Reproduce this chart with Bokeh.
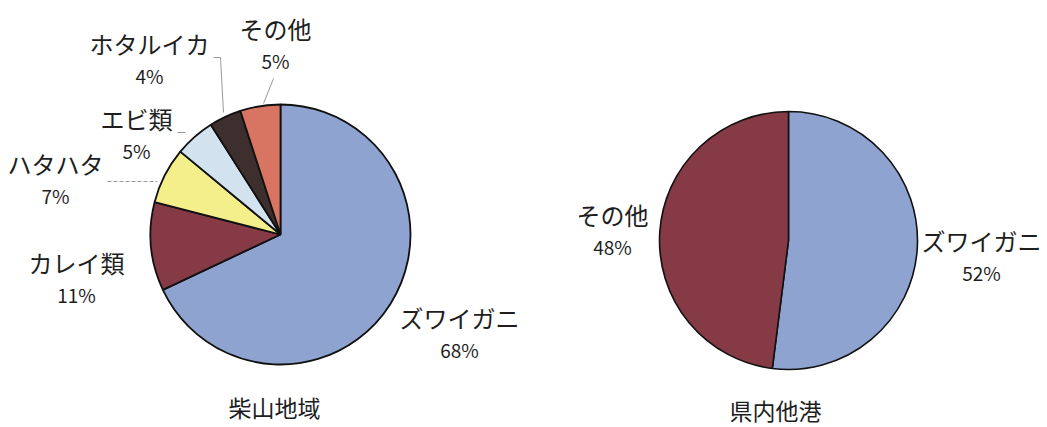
import math
from bokeh.plotting import figure
from bokeh.models import Range1d, ColumnDataSource
from bokeh.core.properties import value
from bokeh.embed import file_html
from bokeh.resources import INLINE

W, H = 1047, 427

# ---- data ----
left_title = "柴山地域"
left_cats = ["ズワイガニ", "カレイ類", "ハタハタ", "エビ類", "ホタルイカ", "その他"]
left_vals = [68, 11, 7, 5, 4, 5]
left_colors = ["#8ea3cf", "#853a45", "#f4ef8a", "#d3e2ef", "#3e2f2f", "#d77462"]

right_title = "県内他港"
right_cats = ["ズワイガニ", "その他"]
right_vals = [52, 48]
right_colors = ["#8ea3cf", "#853a45"]

# label positions (pixel coords, top-left origin)
left_label_pos = [(459, 317), (76, 262), (55, 163), (136, 118), (149, 43), (275, 28)]
right_label_pos = [(981, 240), (612, 214)]

FONT = "Noto Sans CJK JP"

p = figure(width=W, height=H, x_range=Range1d(0, W), y_range=Range1d(0, H),
           output_backend="svg", toolbar_location=None,
           x_axis_type=None, y_axis_type=None, min_border=0)
p.grid.visible = False
p.outline_line_color = None
p.background_fill_color = "white"
p.border_fill_color = "white"


def Y(y):
    return H - y


def draw_pie(cx, cy, r, vals, colors, line_width):
    tot = float(sum(vals))
    starts, ends = [], []
    cum = 0.0
    for v in vals:
        a0 = math.pi / 2 - 2 * math.pi * cum / tot
        cum += v
        a1 = math.pi / 2 - 2 * math.pi * cum / tot
        starts.append(a1)
        ends.append(a0)
    src = ColumnDataSource(dict(x=[cx] * len(vals), y=[Y(cy)] * len(vals),
                                s=starts, e=ends, c=colors))
    p.wedge(x="x", y="y", radius=r, start_angle="s", end_angle="e",
            direction="anticlock", fill_color="c", line_color="#111111",
            line_width=line_width, source=src)


def draw_labels(cats, vals, pos, size_name="24px", size_pct="19px"):
    xs = [q[0] for q in pos]
    p.text(x=xs, y=[Y(q[1]) for q in pos], text=cats,
           text_font=value(FONT), text_font_size=size_name,
           text_align="center", text_baseline="middle", text_color="#1e1e1e")
    p.text(x=xs, y=[Y(q[1] + 32) for q in pos], text=[f"{v}%" for v in vals],
           text_font=value(FONT), text_font_size=size_pct,
           text_align="center", text_baseline="middle", text_color="#1e1e1e")


draw_pie(280, 234, 130, left_vals, left_colors, 1.8)
draw_pie(788, 240, 129, right_vals, right_colors, 1.6)

# leader lines (left pie)
leaders = [
    ([213, 220, 223], [57, 57, 112], "solid"),
    ([273, 263], [78, 103], "solid"),
    ([177, 185], [132, 132], "solid"),
    ([107, 157], [181, 181], "4 2"),
]
for xs, ys, dash in leaders:
    p.line(x=xs, y=[Y(v) for v in ys], line_color="#9a9a9a", line_width=1,
           line_dash=dash)

draw_labels(left_cats, left_vals, left_label_pos)
draw_labels(right_cats, right_vals, right_label_pos)

p.text(x=[274, 775], y=[Y(406), Y(409)], text=[left_title, right_title],
       text_font=value(FONT), text_font_size="23px",
       text_align="center", text_baseline="middle", text_color="#1e1e1e")

open("out.html", "w").write(file_html(p, INLINE))
